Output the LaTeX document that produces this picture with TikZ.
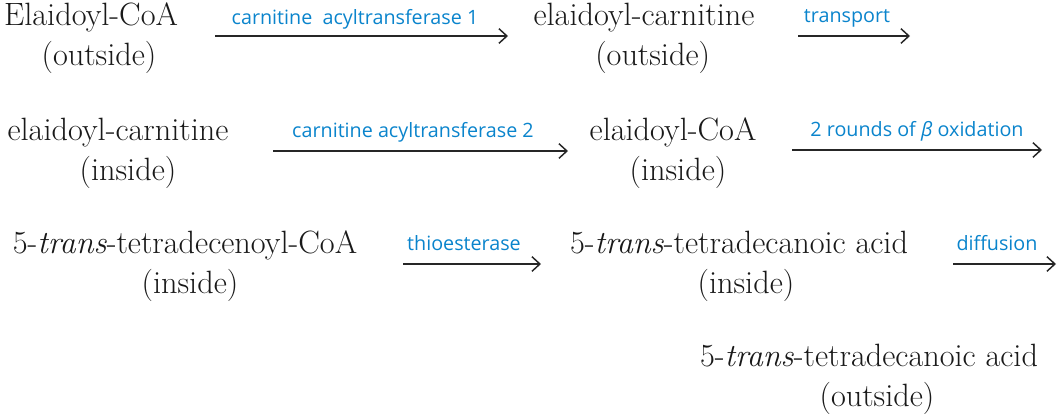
\documentclass[tikz,border=0pt]{standalone}
\usepackage{fontspec}
\newfontfamily\labelfont{Open Sans}
\usetikzlibrary{arrows.meta}
\definecolor{labelblue}{HTML}{0A84CC}
\newcommand{\lineshift}[1]{\hspace*{#1}}
\tikzset{
  chem/.style={align=center, inner sep=0pt, font=\fontsize{24.2}{30}\selectfont, text=black!90},
  enz/.style={inner sep=0pt, anchor=base, font=\labelfont\fontsize{14.8}{16}\selectfont, text=labelblue},
  rxn/.style={line width=1.1pt, black!85, -{Straight Barb[length=6pt,width=11pt,line width=1.1pt]}}
}
\begin{document}
\begin{tikzpicture}[x=0.75pt,y=-0.75pt]
\useasboundingbox (0,0) rectangle (1061,419);
% row 1
\node[chem] (n1) at (91,38) {Elaidoyl-CoA\\\lineshift{12pt}(outside)};
\coordinate (a1s) at (215,36); \coordinate (a1e) at (508,36);
\draw[rxn] (a1s) -- (a1e);
\node[enz] (l1) at (355,24) {carnitine\ \ acyltransferase 1};
\node[chem] (n2) at (644,38) {elaidoyl-carnitine\\\lineshift{13pt}(outside)};
\coordinate (a2s) at (798,36); \coordinate (a2e) at (910,36);
\draw[rxn] (a2s) -- (a2e);
\node[enz] (l2) at (847,22) {transport};
% row 2
\node[chem] (n3) at (118,153) {elaidoyl-carnitine\\\lineshift{15pt}(inside)};
\coordinate (a3s) at (273,151); \coordinate (a3e) at (568,151);
\draw[rxn] (a3s) -- (a3e);
\node[enz] (l3) at (413,137) {carnitine acyltransferase 2};
\node[chem] (n4) at (673,153) {elaidoyl-CoA\\\lineshift{7.5pt}(inside)};
\coordinate (a4s) at (792,150); \coordinate (a4e) at (1042,150);
\draw[rxn] (a4s) -- (a4e);
\node[enz] (l4) at (917,136) {2 rounds of \textit{β} oxidation};
% row 3
\node[chem] (n5) at (185,266) {5-\textit{trans}-tetradecenoyl-CoA\\\lineshift{7.5pt}(inside)};
\coordinate (a5s) at (403,264); \coordinate (a5e) at (541,264);
\draw[rxn] (a5s) -- (a5e);
\node[enz] (l5) at (464,250) {thioesterase};
\node[chem] (n6) at (739,266) {5-\textit{trans}-tetradecanoic acid\\\lineshift{10.5pt}(inside)};
\coordinate (a6s) at (953,264); \coordinate (a6e) at (1056,264);
\draw[rxn] (a6s) -- (a6e);
\node[enz] (l6) at (997,250) {diffusion};
% row 4
\node[chem] (n7) at (869,379) {5-\textit{trans}-tetradecanoic acid\\\lineshift{12pt}(outside)};
\end{tikzpicture}
\end{document}
